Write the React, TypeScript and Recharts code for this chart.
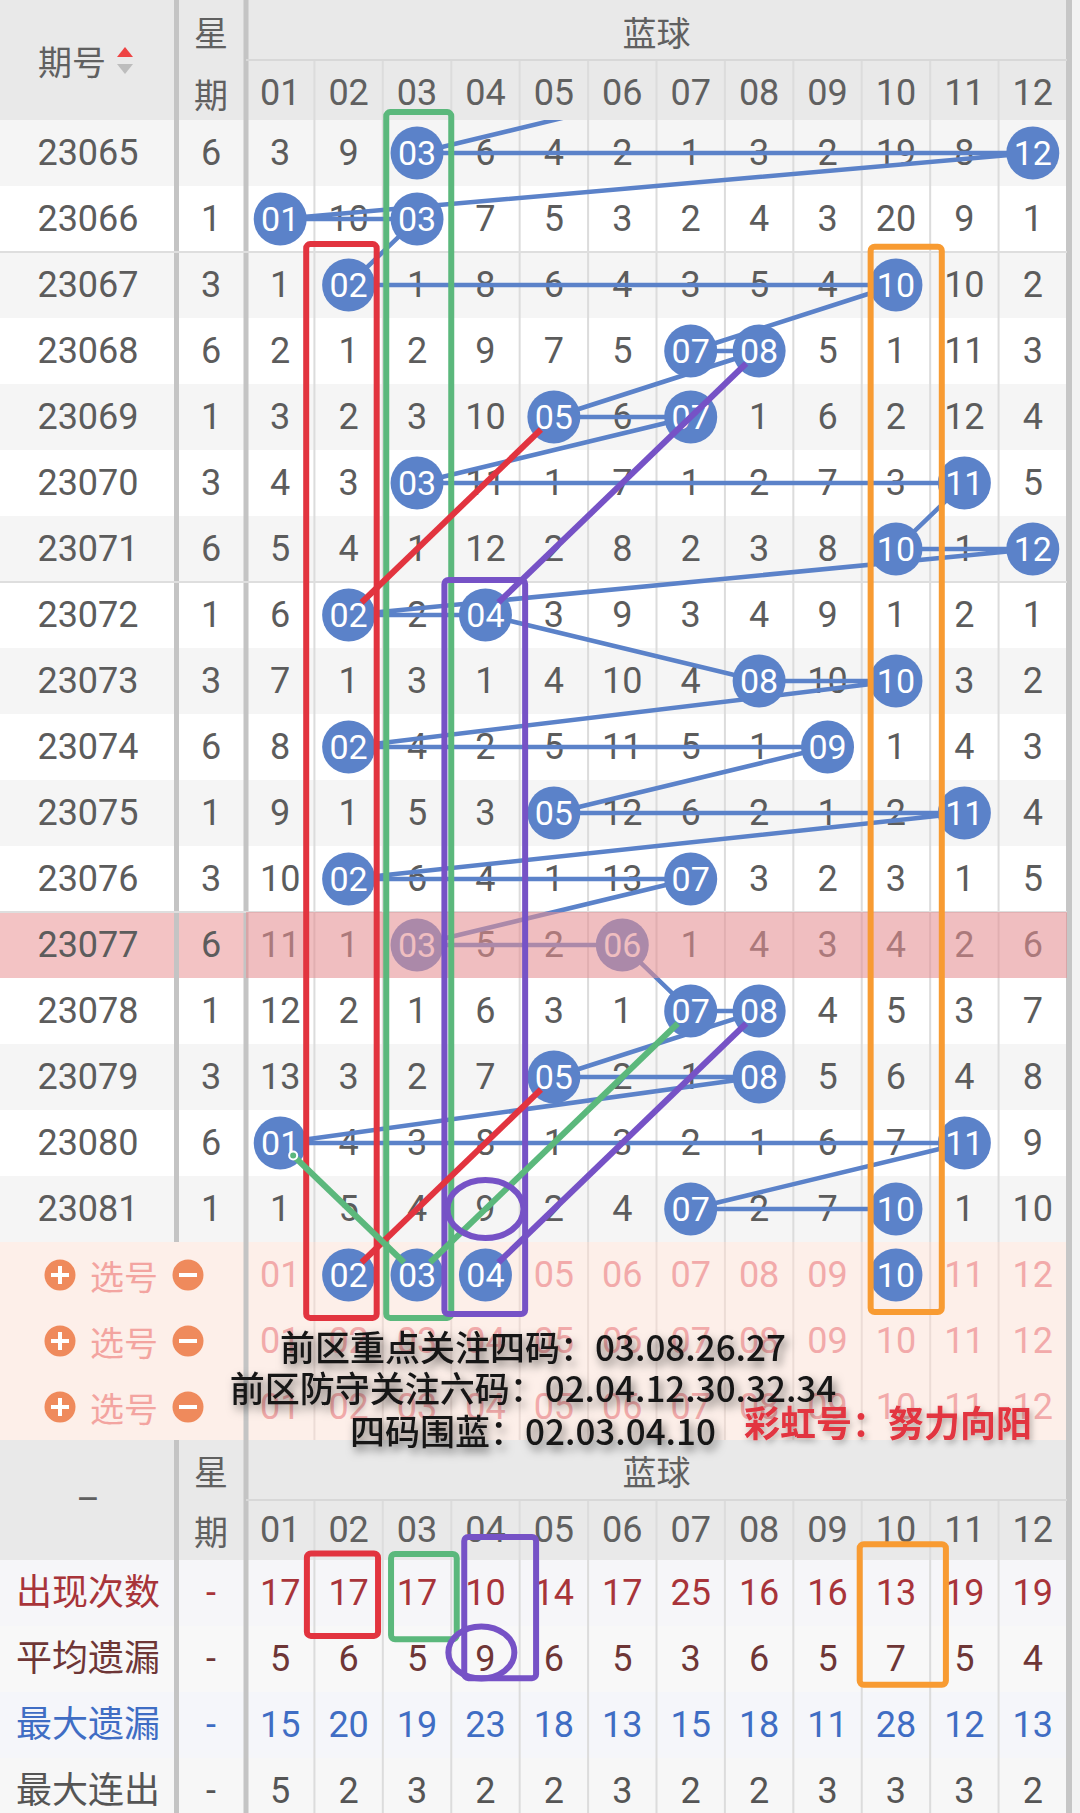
import React from 'react';
import { ComposedChart, Line, ReferenceArea, ReferenceLine, Scatter, XAxis, YAxis } from 'recharts';

const periods = ['23065', '23066', '23067', '23068', '23069', '23070', '23071', '23072', '23073', '23074', '23075', '23076', '23077', '23078', '23079', '23080', '23081'];
const weekdays = [6, 1, 3, 6, 1, 3, 6, 1, 3, 6, 1, 3, 6, 1, 3, 6, 1];
const drawnBalls = [[3, 12], [1, 3], [2, 10], [7, 8], [5, 7], [3, 11], [10, 12], [2, 4], [8, 10], [2, 9], [5, 11], [2, 7], [3, 6], [7, 8], [5, 8], [1, 11], [7, 10]];
// omission per ball (0 = drawn that period)
const omission = [
  [3, 9, 0, 6, 4, 2, 1, 3, 2, 19, 8, 0],
  [0, 10, 0, 7, 5, 3, 2, 4, 3, 20, 9, 1],
  [1, 0, 1, 8, 6, 4, 3, 5, 4, 0, 10, 2],
  [2, 1, 2, 9, 7, 5, 0, 0, 5, 1, 11, 3],
  [3, 2, 3, 10, 0, 6, 0, 1, 6, 2, 12, 4],
  [4, 3, 0, 11, 1, 7, 1, 2, 7, 3, 0, 5],
  [5, 4, 1, 12, 2, 8, 2, 3, 8, 0, 1, 0],
  [6, 0, 2, 0, 3, 9, 3, 4, 9, 1, 2, 1],
  [7, 1, 3, 1, 4, 10, 4, 0, 10, 0, 3, 2],
  [8, 0, 4, 2, 5, 11, 5, 1, 0, 1, 4, 3],
  [9, 1, 5, 3, 0, 12, 6, 2, 1, 2, 0, 4],
  [10, 0, 6, 4, 1, 13, 0, 3, 2, 3, 1, 5],
  [11, 1, 0, 5, 2, 0, 1, 4, 3, 4, 2, 6],
  [12, 2, 1, 6, 3, 1, 0, 0, 4, 5, 3, 7],
  [13, 3, 2, 7, 0, 2, 1, 0, 5, 6, 4, 8],
  [0, 4, 3, 8, 1, 3, 2, 1, 6, 7, 0, 9],
  [1, 5, 4, 9, 2, 4, 0, 2, 7, 0, 1, 10],
];
const prevLastBall = 7; // 23064, only its link shows
const highlightPeriod = '23077';
const ballLabels = ['01', '02', '03', '04', '05', '06', '07', '08', '09', '10', '11', '12'];
const pickedBalls = [2, 3, 4, 10];
const statLabels = ['出现次数', '平均遗漏', '最大遗漏', '最大连出'];
const appearCount = [17, 17, 17, 10, 14, 17, 25, 16, 16, 13, 19, 19];
const avgOmission = [5, 6, 5, 9, 6, 5, 3, 6, 5, 7, 5, 4];
const maxOmission = [15, 20, 19, 23, 18, 13, 15, 18, 11, 28, 12, 13];
const maxStreak = [5, 2, 3, 2, 2, 3, 2, 2, 3, 3, 3, 2];
const noteLines = ['前区重点关注四码：03.08.26.27', '前区防守关注六码：02.04.12.30.32.34', '四码围蓝：02.03.04.10'];
const signature = '彩虹号：努力向阳';

// ---- layout ----
const W = 1080;
const H = 1813;
const GRID_LEFT = 246;
const GRID_RIGHT = 1067;
const GRID_TOP = 120;
const COL_W = (GRID_RIGHT - GRID_LEFT) / 12;
const ROW_H = 66;
const px2x = (px: number) => 0.5 + (px - GRID_LEFT) / COL_W;
const px2y = (py: number) => -0.5 + (py - GRID_TOP) / ROW_H;
const X_DOM: [number, number] = [px2x(0), px2x(W)];
const Y_DOM: [number, number] = [px2y(0), px2y(H)];
const PICK_ROW = periods.length;
const STAT_ROW = px2y(1593);
const X_PERIOD = px2x(88);
const X_WEEK = px2x(211);

const FONT = "Roboto, 'Noto Sans CJK SC', sans-serif";
const CJK = "'Noto Sans CJK SC', sans-serif";
const BLUE = '#5b82c9';
const RED = '#e2343f';
const GREEN = '#5bb87c';
const PURPLE = '#7652c6';
const ORANGE = '#f89b32';

type Pt = { x: number; y: number };
const rowOf = (p: string) => periods.indexOf(p);

const STYLES: Record<string, { fill: string; size: number; family?: string; weight?: number }> = {
  head: { fill: '#606060', size: 34, family: CJK },
  headNum: { fill: '#606060', size: 36 },
  cell: { fill: '#5c5c5c', size: 36 },
  pick: { fill: '#f2aaaa', size: 36 },
  pickLabel: { fill: '#f3a4a0', size: 34, family: CJK },
  stat0: { fill: '#a8343a', size: 36 },
  stat1: { fill: '#6e3636', size: 36 },
  stat2: { fill: '#3f6dc4', size: 36 },
  stat3: { fill: '#555555', size: 36 },
};

function TextMark(p: any) {
  const d = p.payload;
  const { cx, cy } = p;
  if (d.kind === 'sortUp') return <polygon points={`${cx - 8},${cy + 5} ${cx + 8},${cy + 5} ${cx},${cy - 5}`} fill="#ee4444" />;
  if (d.kind === 'sortDown') return <polygon points={`${cx - 8},${cy - 5} ${cx + 8},${cy - 5} ${cx},${cy + 5}`} fill="#bdbdbd" />;
  if (d.kind === 'plus' || d.kind === 'minus')
    return (
      <g>
        <circle cx={cx} cy={cy} r={15.5} fill="#ef8a5c" />
        <rect x={cx - 9} y={cy - 2} width={18} height={4} fill="#fff" />
        {d.kind === 'plus' && <rect x={cx - 2} y={cy - 9} width={4} height={18} fill="#fff" />}
      </g>
    );
  if (d.kind === 'ball') return <BallMark {...p} />;
  const s = STYLES[d.kind];
  return (
    <text x={cx} y={cy} textAnchor="middle" dominantBaseline="central" fontSize={s.size} fill={s.fill} fontFamily={s.family ?? FONT} fontWeight={s.weight ?? 400}>
      {d.text}
    </text>
  );
}

function BallMark(p: any) {
  return (
    <g>
      <circle cx={p.cx} cy={p.cy} r={26.5} fill={BLUE} />
      <text x={p.cx} y={p.cy} textAnchor="middle" dominantBaseline="central" fontSize={34} fill="#fff" fontFamily={FONT}>
        {p.payload.text}
      </text>
    </g>
  );
}

function NoteMark(p: any) {
  const d = p.payload;
  return (
    <text x={p.cx} y={p.cy} textAnchor="middle" dominantBaseline="central" fontSize={d.red ? 36 : 35} fontWeight={d.red ? 700 : 500}
      fill={d.red ? RED : '#151515'} fontFamily={CJK} filter={d.red ? 'url(#softShadow)' : 'url(#noteShadow)'}>
      {d.text}
    </text>
  );
}

function RingMark(p: any) {
  const d = p.payload;
  return <ellipse cx={p.cx} cy={p.cy} rx={d.rx} ry={d.ry} fill="none" stroke={PURPLE} strokeWidth={6} />;
}

function Layer({ clip = false, children }: { clip?: boolean; children: React.ReactNode }) {
  const margin = clip
    ? { top: GRID_TOP, left: GRID_LEFT, right: W - GRID_RIGHT, bottom: H - GRID_TOP - periods.length * ROW_H }
    : { top: 0, left: 0, right: 0, bottom: 0 };
  return (
    <div style={{ position: 'absolute', left: 0, top: 0 }}>
      <ComposedChart width={W} height={H} margin={margin}>
        <XAxis type="number" dataKey="x" domain={clip ? [0.5, 12.5] : X_DOM} hide allowDataOverflow />
        <YAxis type="number" dataKey="y" domain={clip ? [-0.5, periods.length - 0.5] : Y_DOM} reversed hide allowDataOverflow />
        {children}
      </ComposedChart>
    </div>
  );
}

function trimmed(a: Pt, b: Pt, cut: number): Pt[] {
  const len = Math.hypot((b.x - a.x) * COL_W, (b.y - a.y) * ROW_H);
  const f = cut / len;
  return [
    { x: a.x + (b.x - a.x) * f, y: a.y + (b.y - a.y) * f },
    { x: b.x - (b.x - a.x) * f, y: b.y - (b.y - a.y) * f },
  ];
}

export default function App() {
  const hi = rowOf(highlightPeriod);
  const top = periods.length - 0.5;

  // ---- backgrounds ----
  const bgs: { x1: number; x2: number; y1: number; y2: number; fill: string }[] = [];
  bgs.push({ x1: X_DOM[0], x2: 12.5, y1: Y_DOM[0], y2: -0.5, fill: '#e9e9e9' });
  periods.forEach((_, i) => {
    if (i === hi) {
      bgs.push({ x1: X_DOM[0], x2: 0.5, y1: i - 0.5, y2: i + 0.5, fill: '#f3c3c4' });
      bgs.push({ x1: 0.5, x2: 12.5, y1: i - 0.5, y2: i + 0.5, fill: '#ffffff' });
    } else bgs.push({ x1: X_DOM[0], x2: 12.5, y1: i - 0.5, y2: i + 0.5, fill: i % 2 === 0 ? '#f5f5f5' : '#ffffff' });
  });
  bgs.push({ x1: X_DOM[0], x2: 12.5, y1: top, y2: top + 3, fill: '#fdefe9' });
  bgs.push({ x1: X_DOM[0], x2: 12.5, y1: top + 3, y2: STAT_ROW - 0.5, fill: '#e9e9e9' });
  ['#f6f6f9', '#f8f8f8', '#f5f6fa', '#f7f7f7'].forEach((c, j) =>
    bgs.push({ x1: X_DOM[0], x2: 12.5, y1: STAT_ROW - 0.5 + j, y2: STAT_ROW + 0.5 + j, fill: c }));
  bgs.push({ x1: px2x(GRID_RIGHT - 1), x2: px2x(GRID_RIGHT + 5), y1: Y_DOM[0], y2: Y_DOM[1], fill: '#c6c6c6' });
  bgs.push({ x1: px2x(GRID_RIGHT + 5), x2: X_DOM[1], y1: Y_DOM[0], y2: Y_DOM[1], fill: '#f3f3f3' });

  // ---- grid lines ----
  const gridSegs: { a: Pt; b: Pt; c: string; w: number }[] = [];
  for (let k = 1; k < 12; k++) {
    gridSegs.push({ a: { x: k + 0.5, y: px2y(60) }, b: { x: k + 0.5, y: top }, c: '#dcdcdc', w: 2 });
    gridSegs.push({ a: { x: k + 0.5, y: top }, b: { x: k + 0.5, y: top + 3 }, c: '#ecdcd6', w: 2 });
    gridSegs.push({ a: { x: k + 0.5, y: px2y(1500) }, b: { x: k + 0.5, y: Y_DOM[1] }, c: '#dcdcdc', w: 2 });
  }
  gridSegs.push({ a: { x: 0.5, y: px2y(60) }, b: { x: 12.5, y: px2y(60) }, c: '#d8d8d8', w: 2 });
  gridSegs.push({ a: { x: 0.5, y: px2y(1500) }, b: { x: 12.5, y: px2y(1500) }, c: '#d8d8d8', w: 2 });
  [1.5, 6.5, 11.5].forEach((y) => gridSegs.push({ a: { x: X_DOM[0], y }, b: { x: 12.5, y }, c: '#dedede', w: 2 }));
  const seps = [
    { x1: px2x(174), x2: px2x(179), y1: Y_DOM[0], y2: top },
    { x1: px2x(174), x2: px2x(179), y1: top + 3, y2: Y_DOM[1] },
    { x1: px2x(243.5), x2: px2x(248.5), y1: Y_DOM[0], y2: Y_DOM[1] },
  ];

  // ---- texts ----
  const texts: any[] = [
    { x: px2x(72), y: px2y(60), text: '期号', kind: 'head' },
    { x: px2x(125), y: px2y(52), kind: 'sortUp' },
    { x: px2x(125), y: px2y(69), kind: 'sortDown' },
    { x: X_WEEK, y: px2y(31), text: '星', kind: 'head' },
    { x: X_WEEK, y: px2y(93), text: '期', kind: 'head' },
    { x: 6.5, y: px2y(31), text: '蓝球', kind: 'head' },
    ...ballLabels.map((t, k) => ({ x: k + 1, y: px2y(93), text: t, kind: 'headNum' })),
  ];
  periods.forEach((p, i) => {
    texts.push({ x: X_PERIOD, y: i, text: p, kind: 'cell' });
    texts.push({ x: X_WEEK, y: i, text: String(weekdays[i]), kind: 'cell' });
    omission[i].forEach((v, k) => {
      if (v > 0) texts.push({ x: k + 1, y: i, text: String(v), kind: 'cell' });
    });
  });
  for (let r = 0; r < 3; r++) {
    const y = PICK_ROW + r;
    texts.push({ x: px2x(60), y, kind: 'plus' });
    texts.push({ x: px2x(124), y, text: '选号', kind: 'pickLabel' });
    texts.push({ x: px2x(188), y, kind: 'minus' });
    ballLabels.forEach((t, k) => {
      if (r === 0 && pickedBalls.includes(k + 1)) texts.push({ x: k + 1, y, text: t, kind: 'ball' });
      else texts.push({ x: k + 1, y, text: t, kind: 'pick' });
    });
  }
  texts.push({ x: X_PERIOD, y: px2y(1500), text: '–', kind: 'headNum' });
  texts.push({ x: X_WEEK, y: px2y(1470), text: '星', kind: 'head' });
  texts.push({ x: X_WEEK, y: px2y(1530), text: '期', kind: 'head' });
  texts.push({ x: 6.5, y: px2y(1470), text: '蓝球', kind: 'head' });
  ballLabels.forEach((t, k) => texts.push({ x: k + 1, y: px2y(1530), text: t, kind: 'headNum' }));
  [appearCount, avgOmission, maxOmission, maxStreak].forEach((vals, j) => {
    const y = STAT_ROW + j;
    texts.push({ x: X_PERIOD, y, text: statLabels[j], kind: `stat${j}` });
    texts.push({ x: X_WEEK, y, text: '-', kind: `stat${j}` });
    vals.forEach((v, k) => texts.push({ x: k + 1, y, text: String(v), kind: `stat${j}` }));
  });

  // ---- trend polyline + balls ----
  const path: Pt[] = [{ x: prevLastBall, y: -1 }];
  const balls: any[] = [];
  drawnBalls.forEach((pair, i) =>
    pair.forEach((b) => {
      path.push({ x: b, y: i });
      balls.push({ x: b, y: i, text: ballLabels[b - 1] });
    }));

  // ---- annotations ----
  const boxes = [
    { c: RED, x1: 2 - 0.62, x2: 2 + 0.41, y1: 2 - 0.62, y2: PICK_ROW + 0.65 },
    { c: GREEN, x1: 3 - 0.45, x2: 3 + 0.5, y1: 0 - 0.62, y2: PICK_ROW + 0.65 },
    { c: PURPLE, x1: 4 - 0.6, x2: 4 + 0.58, y1: 7 - 0.53, y2: PICK_ROW + 0.59 },
    { c: ORANGE, x1: 10 - 0.37, x2: 10 + 0.67, y1: 2 - 0.58, y2: PICK_ROW + 0.56 },
    { c: RED, x1: 2 - 0.61, x2: 2 + 0.43, y1: STAT_ROW - 0.6, y2: STAT_ROW + 0.65 },
    { c: GREEN, x1: 3 - 0.38, x2: 3 + 0.58, y1: STAT_ROW - 0.59, y2: STAT_ROW + 0.7 },
    { c: PURPLE, x1: 4 - 0.31, x2: 4 + 0.74, y1: STAT_ROW - 0.85, y2: STAT_ROW + 1.29 },
    { c: ORANGE, x1: 10 - 0.53, x2: 10 + 0.73, y1: STAT_ROW - 0.74, y2: STAT_ROW + 1.39 },
  ];
  const guides = [
    { c: RED, a: { x: 2, y: rowOf('23072') }, b: { x: 5, y: rowOf('23069') } },
    { c: RED, a: { x: 2, y: PICK_ROW }, b: { x: 5, y: rowOf('23079') } },
    { c: GREEN, a: { x: 1, y: rowOf('23080') }, b: { x: 3, y: PICK_ROW } },
    { c: GREEN, a: { x: 3, y: PICK_ROW }, b: { x: 7, y: rowOf('23078') } },
    { c: PURPLE, a: { x: 4, y: rowOf('23072') }, b: { x: 8, y: rowOf('23068') } },
    { c: PURPLE, a: { x: 4, y: PICK_ROW }, b: { x: 8, y: rowOf('23078') } },
  ];
  const rings = [
    { x: 4, y: rowOf('23081'), rx: 38, ry: 29 },
    { x: 4 - 0.06, y: STAT_ROW + 1 - 0.1, rx: 33, ry: 26 },
  ];
  const notes = [
    ...noteLines.map((t, i) => ({ x: px2x(533), y: px2y([1345, 1386, 1429][i]), text: t })),
    { x: px2x(888), y: px2y(1421), text: signature, red: true },
  ];

  return (
    <div style={{ position: 'relative', width: W, height: H, overflow: 'hidden', background: '#fff' }}>
      <style>{'body{margin:0}'}</style>
      <svg width={0} height={0} style={{ position: 'absolute' }}>
        <defs>
          <filter id="noteShadow" x="-10%" y="-60%" width="120%" height="240%">
            <feDropShadow dx={3} dy={5} stdDeviation={5} floodColor="#000" floodOpacity={0.55} />
          </filter>
          <filter id="softShadow" x="-10%" y="-60%" width="120%" height="240%">
            <feDropShadow dx={2} dy={3} stdDeviation={3} floodColor="#000" floodOpacity={0.3} />
          </filter>
        </defs>
      </svg>

      <Layer>
        {bgs.map((b, i) => (
          <ReferenceArea key={i} x1={b.x1} x2={b.x2} y1={b.y1} y2={b.y2} fill={b.fill} fillOpacity={1} stroke="none" ifOverflow="visible" />
        ))}
      </Layer>

      <Layer>
        {seps.map((s, i) => (
          <ReferenceArea key={`s${i}`} x1={s.x1} x2={s.x2} y1={s.y1} y2={s.y2} fill="#c4c4c4" fillOpacity={1} stroke="none" ifOverflow="visible" />
        ))}
        {gridSegs.map((g, i) => (
          <ReferenceLine key={i} segment={[g.a, g.b]} stroke={g.c} strokeWidth={g.w} ifOverflow="visible" />
        ))}
      </Layer>

      <Layer>
        <Scatter data={texts} shape={TextMark} isAnimationActive={false} />
      </Layer>

      <Layer clip>
        <Line data={path} dataKey="y" type="linear" stroke={BLUE} strokeWidth={4.5} dot={false} isAnimationActive={false} />
        <Scatter data={balls} shape={BallMark} isAnimationActive={false} />
      </Layer>

      <Layer>
        <ReferenceArea x1={0.5} x2={12.5} y1={hi - 0.5} y2={hi + 0.5} fill="#e58f92" fillOpacity={0.58} stroke="none" ifOverflow="visible" />
        {boxes.map((b, i) => (
          <ReferenceArea key={i} x1={b.x1} x2={b.x2} y1={b.y1} y2={b.y2} ifOverflow="visible"
            shape={(p: any) => (
              <rect x={p.x} y={p.y} width={p.width} height={p.height} rx={4} fill="none" stroke={b.c} strokeWidth={6} />
            )} />
        ))}
        {guides.map((g, i) => (
          <Line key={i} data={trimmed(g.a, g.b, 18)} dataKey="y" type="linear" stroke={g.c} strokeWidth={6} dot={false} isAnimationActive={false} />
        ))}
        <Scatter data={rings} shape={RingMark} isAnimationActive={false} />
        <Scatter data={notes} shape={NoteMark} isAnimationActive={false} />
      </Layer>
    </div>
  );
}
